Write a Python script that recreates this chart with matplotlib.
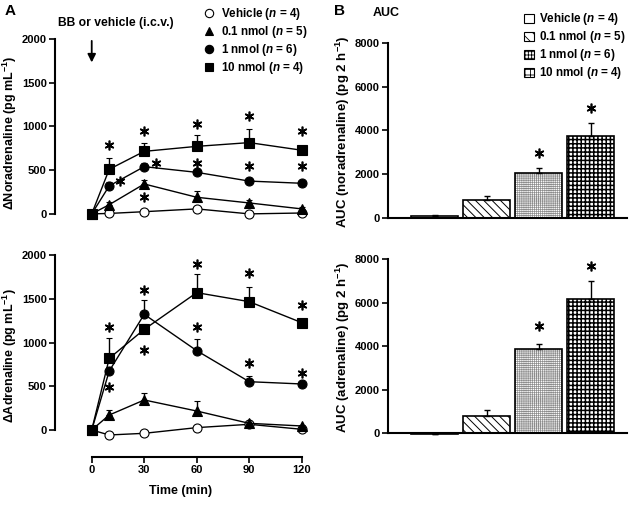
import numpy as np
import matplotlib
matplotlib.use("Agg")
import matplotlib.pyplot as plt
from matplotlib.lines import Line2D
from matplotlib.patches import Patch

plt.rcParams['font.family'] = ['Liberation Sans', 'DejaVu Sans']
plt.rcParams['font.weight'] = 'bold'
plt.rcParams['mathtext.fontset'] = 'custom'
plt.rcParams['mathtext.rm'] = 'Liberation Sans:bold'
plt.rcParams['mathtext.it'] = 'Liberation Sans:italic:bold'
plt.rcParams['mathtext.default'] = 'regular'
plt.rcParams['hatch.linewidth'] = 0.6

# ---- data ----
t = [0, 10, 30, 60, 90, 120]
groups = ['Vehicle', '0.1 nmol', '1 nmol', '10 nmol']
n_per = [4, 5, 6, 4]

nor_veh = [0, 5, 25, 57, 0, 10]
nor_01 = [0, 105, 342, 190, 125, 57]
nor_1 = [0, 320, 540, 475, 375, 350]
nor_10 = [0, 510, 715, 772, 815, 728]
nor_err = {
    'veh': [0, 10, 15, 15, 10, 10],
    '01': [0, 30, 40, 70, 30, 20],
    '1': [0, 40, 40, 40, 30, 20],
    '10': [0, 130, 100, 133, 150, 30],
}

adr_veh = [0, -57, -38, 27, 65, 8]
adr_01 = [0, 171, 343, 217, 76, 46]
adr_1 = [0, 674, 1322, 907, 552, 526]
adr_10 = [0, 819, 1150, 1570, 1467, 1227]
adr_err = {
    'veh': [0, 10, 15, 15, 10, 10],
    '01': [0, 60, 77, 118, 20, 15],
    '1': [0, 50, 165, 133, 70, 25],
    '10': [0, 230, 60, 210, 170, 30],
}

nor_star_x = [10, 16, 30, 37, 30, 60, 60, 90, 90, 120, 120]
nor_star_y = [783, 373, 950, 582, 194, 1030, 582, 1122, 544, 950, 543]
adr_star_x = [10, 10, 30, 30, 60, 60, 90, 90, 120, 120]
adr_star_y = [1181, 495, 1600, 917, 1895, 1181, 1790, 762, 1429, 655]

auc_nor = [100, 840, 2060, 3730]
auc_nor_err = [30, 150, 230, 610]
auc_adr = [-40, 810, 3860, 6180]
auc_adr_err = [20, 240, 250, 820]
auc_nor_star_x = [2, 3]
auc_nor_star_y = [2970, 5030]
auc_adr_star_x = [2, 3]
auc_adr_star_y = [4904, 7663]

labels = [r'%s ($\mathit{n}$ = %d)' % (g, n) for g, n in zip(groups, n_per)]
markers = ['o', '^', 'o', 's']
faces = ['white', 'black', 'black', 'black']
hatches = ['', '\\\\\\\\', '++++++++', '++++']
hatch_cols = ['black', 'black', '#8c8c8c', 'black']
hatch_lw = [0.6, 0.7, 0.5, 1.1]
star_marker = (6, 2, 0)

fig = plt.figure(figsize=(6.29, 5.05), dpi=100)
ax1 = fig.add_axes([0.0874, 0.5505, 0.4006, 0.3723])
ax2 = fig.add_axes([0.0874, 0.095, 0.4006, 0.400])
ax3 = fig.add_axes([0.617, 0.564, 0.380, 0.351])
ax4 = fig.add_axes([0.617, 0.138, 0.380, 0.349])


def line_panel(ax, series, errs, sx, sy, ymin, show_x):
    keys = ['veh', '01', '1', '10']
    for ys, k, m, fc in zip(series, keys, markers, faces):
        ax.errorbar(t, ys, yerr=[np.zeros(len(ys)), errs[k]], color='black',
                    lw=1.0, elinewidth=1.0, capsize=2, capthick=1.0,
                    marker=m, ms=6.5 if m != '^' else 7, mfc=fc, mec='black',
                    mew=0.8, clip_on=False, zorder=3)
    ax.plot(sx, sy, ls='none', marker=star_marker, ms=7, mew=1.2,
            color='black', clip_on=False)
    ax.set_xlim(-21, 123)
    ax.set_ylim(ymin, 2000)
    ax.set_yticks([0, 500, 1000, 1500, 2000])
    ax.spines['left'].set_bounds(0, 2000)
    for s in ['top', 'right']:
        ax.spines[s].set_visible(False)
    ax.spines['left'].set_linewidth(1.5)
    if show_x:
        ax.spines['bottom'].set_bounds(0, 120)
        ax.spines['bottom'].set_linewidth(1.5)
        ax.set_xticks([0, 30, 60, 90, 120])
        ax.set_xlabel('Time (min)', fontsize=9, fontweight='bold', labelpad=7)
    else:
        ax.spines['bottom'].set_visible(False)
        ax.set_xticks([])
    ax.tick_params(labelsize=8, width=1.2, length=4, pad=2)


line_panel(ax1, [nor_veh, nor_01, nor_1, nor_10], nor_err, nor_star_x,
           nor_star_y, -150, False)
line_panel(ax2, [adr_veh, adr_01, adr_1, adr_10], adr_err, adr_star_x,
           adr_star_y, -309, True)
ax1.set_ylabel(r'$\Delta$Noradrenaline (pg mL$^{-1}$)', fontsize=9,
               fontweight='bold', labelpad=2)
ax2.set_ylabel(r'$\Delta$Adrenaline (pg mL$^{-1}$)', fontsize=9,
               fontweight='bold', labelpad=2)

ax1.annotate('', xy=(0, 1700), xytext=(0, 2010),
             arrowprops=dict(arrowstyle='-|>', color='black', lw=1.3,
                             mutation_scale=12),
             annotation_clip=False)
ax1.text(14, 2180, 'BB or vehicle (i.c.v.)', fontsize=8.7, fontweight='bold',
         ha='center', va='center')

handles = [Line2D([], [], ls='none', marker=m, mfc=fc, mec='black', ms=6,
                  mew=0.8) for m, fc in zip(markers, faces)]
ax1.legend(handles, labels, loc='upper left', bbox_to_anchor=(0.57, 1.2),
           frameon=False, fontsize=8.4, handlelength=1.0, handletextpad=0.5,
           labelspacing=0.17, borderaxespad=0)


def hatched(ax, x, h, hatch, hcol, hlw):
    b = ax.bar(x, h, width=0.9, color='white', edgecolor=hcol, lw=0,
               hatch=hatch, zorder=2)
    for p in b:
        if hasattr(p, 'set_hatch_linewidth'):
            p.set_hatch_linewidth(hlw)
    ax.bar(x, h, width=0.9, color='none', edgecolor='black', lw=1.2, zorder=2.5)


def bar_panel(ax, vals, errs, sx, sy, ylab):
    x = np.arange(len(vals))
    for xi, v, e, h, hc, hl in zip(x, vals, errs, hatches, hatch_cols, hatch_lw):
        hatched(ax, xi, v, h, hc, hl)
        ax.errorbar(xi, v, yerr=[[0], [e]] if v >= 0 else [[e], [0]],
                    color='black', elinewidth=1.0, capsize=2, capthick=1.0,
                    zorder=3)
    ax.plot(sx, sy, ls='none', marker=star_marker, ms=7, mew=1.2,
            color='black', clip_on=False)
    ax.set_xlim(-0.9, 3.7)
    ax.set_ylim(-100, 8000)
    ax.set_yticks([0, 2000, 4000, 6000, 8000])
    ax.spines['left'].set_bounds(0, 8000)
    ax.spines['bottom'].set_position(('data', 0))
    for s in ['top', 'right']:
        ax.spines[s].set_visible(False)
    ax.spines['left'].set_linewidth(1.5)
    ax.spines['bottom'].set_linewidth(1.5)
    ax.set_xticks([])
    ax.tick_params(labelsize=8, width=1.2, length=4, pad=2)
    ax.set_ylabel(ylab, fontsize=9.5, fontweight='bold', labelpad=2)


bar_panel(ax3, auc_nor, auc_nor_err, auc_nor_star_x, auc_nor_star_y,
          r'AUC (noradrenaline) (pg 2 h$^{-1}$)')
bar_panel(ax4, auc_adr, auc_adr_err, auc_adr_star_x, auc_adr_star_y,
          r'AUC (adrenaline) (pg 2 h$^{-1}$)')

bh = [Patch(facecolor='white', edgecolor='black', hatch=h, lw=0.8)
      for h in ['', '\\\\\\', '+++++', '+++']]
ax3.legend(bh, labels, loc='upper left', bbox_to_anchor=(0.55, 1.205),
           frameon=False, fontsize=8.4, handlelength=0.8, handleheight=0.8,
           handletextpad=0.5, labelspacing=0.17, borderaxespad=0)

fig.text(5 / 629, 1 - 11 / 505, 'A', fontsize=11, fontweight='bold',
         va='center')
fig.text(334 / 629, 1 - 11 / 505, 'B', fontsize=11, fontweight='bold',
         va='center')
fig.text(373 / 629, 1 - 13 / 505, 'AUC', fontsize=9, fontweight='bold',
         va='center')

fig.savefig('out.png', dpi=100)
